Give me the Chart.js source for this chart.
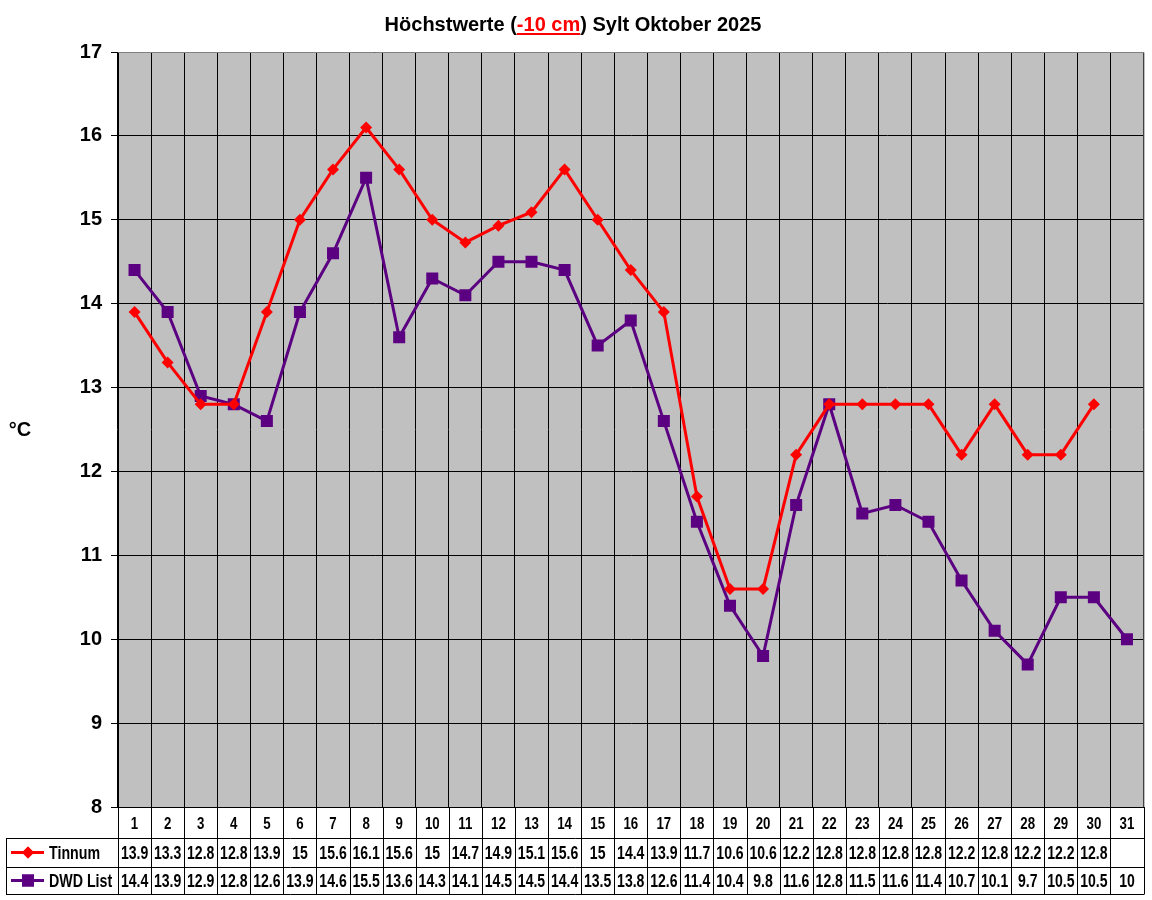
<!DOCTYPE html>
<html>
<head>
<meta charset="utf-8">
<script src="https://cdn.jsdelivr.net/npm/chart.js@4.4.1/dist/chart.umd.min.js"></script>
<style>
  html, body { margin: 0; padding: 0; background: #fff; }
  #wrap { width: 1152px; height: 900px; }
</style>
</head>
<body>
<div id="wrap"><canvas id="grafico" width="1152" height="900"></canvas></div>
<script>
// Daten Oktober 2025
const tage = ['1','2','3','4','5','6','7','8','9','10','11','12','13','14','15','16',
  '17','18','19','20','21','22','23','24','25','26','27','28','29','30','31'];
const tinnum = [13.9, 13.3, 12.8, 12.8, 13.9, 15, 15.6, 16.1, 15.6, 15, 14.73, 14.93, 15.09, 15.6, 15,
  14.4, 13.9, 11.7, 10.6, 10.6, 12.2, 12.8, 12.8, 12.8, 12.8, 12.2, 12.8, 12.2, 12.2, 12.8, null];
const dwd = [14.4, 13.9, 12.9, 12.8, 12.6, 13.9, 14.6, 15.5, 13.6, 14.3, 14.1, 14.5, 14.5, 14.4, 13.5,
  13.8, 12.6, 11.4, 10.4, 9.8, 11.6, 12.8, 11.5, 11.6, 11.4, 10.7, 10.1, 9.7, 10.5, 10.5, 10];
const yTicks = [8, 9, 10, 11, 12, 13, 14, 15, 16, 17];

const ROT = '#ff0000';
const LILA = '#5c0082';
const FONT = 'Arial, "Liberation Sans", sans-serif';

function fmt(v) {
  if (v === null || v === undefined) return '';
  return String(Math.round(v * 10) / 10);
}

// schmale Schrift wie in Excel-Tabelle
function schmal(ctx, text, x, y, align, sx) {
  ctx.save();
  ctx.translate(x, y);
  ctx.scale(sx || 0.78, 1);
  ctx.textAlign = align || 'center';
  ctx.fillText(text, 0, 0);
  ctx.restore();
}

// Hintergrund, Titel, °C und Datentabelle
const extras = {
  id: 'extras',
  beforeDraw(chart) {
    const { ctx, chartArea: a } = chart;
    ctx.save();
    ctx.fillStyle = '#c0c0c0';
    ctx.fillRect(a.left, a.top, a.right - a.left, a.bottom - a.top);
    ctx.restore();
  },
  afterDraw(chart) {
    const { ctx, chartArea: a } = chart;
    const xs = chart.scales.x;
    const n = tage.length;
    const cw = (a.right - a.left) / n;
    ctx.save();

    // Rahmen oben/rechts grau
    ctx.strokeStyle = '#808080';
    ctx.lineWidth = 1;
    ctx.beginPath();
    ctx.moveTo(a.left, a.top + 0.5);
    ctx.lineTo(a.right + 0.5, a.top + 0.5);
    ctx.lineTo(a.right + 0.5, a.bottom);
    ctx.stroke();

    // Titel
    ctx.font = 'bold 20px ' + FONT;
    ctx.textBaseline = 'alphabetic';
    const t1 = 'Höchstwerte (', t2 = '-10 cm', t3 = ') Sylt Oktober 2025';
    const w1 = ctx.measureText(t1).width, w2 = ctx.measureText(t2).width, w3 = ctx.measureText(t3).width;
    let tx = 573 - (w1 + w2 + w3) / 2;
    const ty = 31;
    ctx.fillStyle = '#000';
    ctx.textAlign = 'left';
    ctx.fillText(t1, tx, ty);
    ctx.fillStyle = ROT;
    ctx.fillText(t2, tx + w1, ty);
    ctx.fillRect(tx + w1, ty + 2, w2, 2);
    ctx.fillStyle = '#000';
    ctx.fillText(t3, tx + w1 + w2, ty);

    // Achsentitel
    ctx.font = 'bold 20px ' + FONT;
    ctx.textAlign = 'center';
    ctx.textBaseline = 'middle';
    ctx.fillText('°C', 20, 430);

    // Tabelle
    const r0 = a.bottom, r1 = 838, r2 = 867, r3 = 894;
    const legL = 6;
    ctx.strokeStyle = '#000';
    ctx.lineWidth = 1;
    ctx.beginPath();
    ctx.moveTo(a.left, r0 + 0.5); ctx.lineTo(a.right + 1, r0 + 0.5);
    ctx.moveTo(legL, r1 + 0.5); ctx.lineTo(a.right + 1, r1 + 0.5);
    ctx.moveTo(legL, r2 + 0.5); ctx.lineTo(a.right + 1, r2 + 0.5);
    ctx.moveTo(legL, r3 + 0.5); ctx.lineTo(a.right + 1, r3 + 0.5);
    ctx.moveTo(legL + 0.5, r1); ctx.lineTo(legL + 0.5, r3);
    for (let i = 0; i <= n; i++) {
      const x = Math.round(a.left + i * cw) + 0.5;
      ctx.moveTo(x, r0); ctx.lineTo(x, r3);
    }
    ctx.stroke();

    ctx.fillStyle = '#000';
    ctx.textBaseline = 'middle';
    for (let i = 0; i < n; i++) {
      const cx = xs.getPixelForValue(i);
      ctx.font = 'bold 17px ' + FONT;
      schmal(ctx, tage[i], cx, (r0 + r1) / 2 + 1.5);
      ctx.font = 'bold 18px ' + FONT;
      schmal(ctx, fmt(tinnum[i]), cx, (r1 + r2) / 2 + 1.5);
      schmal(ctx, fmt(dwd[i]), cx, (r2 + r3) / 2 + 1.5);
    }

    // Legende in der Tabelle
    const rows = [
      { y: (r1 + r2) / 2, color: ROT, label: 'Tinnum', style: 'rectRot', r: 6 },
      { y: (r2 + r3) / 2, color: LILA, label: 'DWD List', style: 'rect', r: 8.5 }
    ];
    rows.forEach(row => {
      ctx.strokeStyle = row.color;
      ctx.lineWidth = 3;
      ctx.beginPath();
      ctx.moveTo(11, row.y);
      ctx.lineTo(44, row.y);
      ctx.stroke();
      ctx.fillStyle = row.color;
      Chart.helpers.drawPoint(ctx, { pointStyle: row.style, radius: row.r, borderWidth: 0, rotation: 0 }, 28, row.y);
      ctx.fill();
      ctx.fillStyle = '#000';
      ctx.font = 'bold 18px ' + FONT;
      schmal(ctx, row.label, 49, row.y + 1.5, 'left', 0.79);
    });
    ctx.restore();
  }
};

const ctx = document.getElementById('grafico').getContext('2d');
const grafico = new Chart(ctx, {
  type: 'line',
  data: {
    labels: tage,
    datasets: [{
      label: 'Tinnum',
      data: tinnum,
      borderColor: ROT,
      backgroundColor: ROT,
      borderWidth: 3,
      pointStyle: 'rectRot',
      pointRadius: 6,
      pointBorderWidth: 0,
      tension: 0
    }, {
      label: 'DWD List',
      data: dwd,
      borderColor: LILA,
      backgroundColor: LILA,
      borderWidth: 3,
      pointStyle: 'rect',
      pointRadius: 8.5,
      pointBorderWidth: 0,
      tension: 0
    }]
  },
  options: {
    responsive: false,
    animation: false,
    layout: {
      padding: { left: 0, right: 1, top: 52, bottom: 93 }
    },
    scales: {
      x: {
        offset: true,
        ticks: { display: false },
        grid: {
          offset: true,
          color: '#000',
          drawTicks: false
        },
        border: { display: false },
        afterFit(scale) { scale.height = 0; }
      },
      y: {
        min: 8,
        max: 17,
        afterBuildTicks(scale) {
          scale.ticks = yTicks.map(v => ({ value: v }));
        },
        afterFit(scale) { scale.width = 118; },
        ticks: {
          color: '#000',
          padding: 9,
          font: { family: FONT, size: 20, weight: 'bold' }
        },
        grid: {
          color: '#000',
          tickLength: 7
        },
        border: { color: '#000' }
      }
    },
    plugins: {
      legend: { display: false },
      title: { display: false },
      tooltip: { enabled: false }
    }
  },
  plugins: [extras]
});
</script>
</body>
</html>
